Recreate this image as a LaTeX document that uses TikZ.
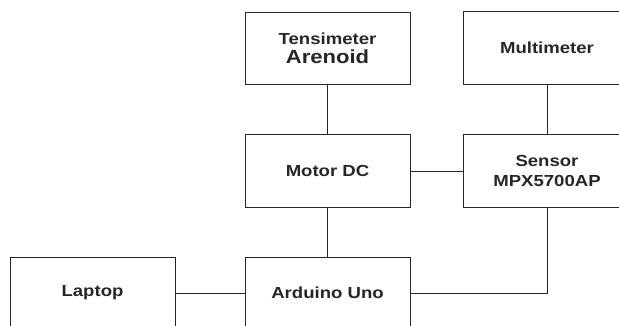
\documentclass[tikz,border=0pt]{standalone}
\usepackage{fontspec}
\setmainfont{Liberation Sans}[FakeStretch=1.16]
\begin{document}
\begin{tikzpicture}[x=1pt,y=-1pt,
  blk/.style={draw=black!85,line width=0.9pt,fill=white,minimum width=165pt,minimum height=72pt,inner sep=0pt,align=center,font=\bfseries\fontsize{16}{20}\selectfont,text=black!85},
  cut/.style={blk,draw=none,fill=none,minimum width=166pt},
  wire/.style={draw=black!85,line width=0.9pt}]
\useasboundingbox (0,0) rectangle (619,326);
\clip (0,0) rectangle (619,326);
\node[blk] (T) at (327.5,48) {Tensimeter\\[-1pt]{\fontsize{19}{20}\selectfont Arenoid}};
\node[cut] (Mu) at (547,48) {Multimeter};
\draw[wire] (Mu.north west) rectangle ([xshift=40pt]Mu.south east);
\node[blk,minimum height=73pt] (M) at (327.5,171) {Motor DC};
\node[cut,minimum height=73pt] (S) at (547,171) {Sensor\\MPX5700AP};
\draw[wire] (S.north west) rectangle ([xshift=40pt]S.south east);
\node[blk] (L) at (92.5,293) {Laptop};
\node[blk] (A) at (327.5,293) {Arduino Uno};
\draw[wire] (T.south) -- (M.north);
\draw[wire] (Mu.south) -- (S.north);
\draw[wire] (M.east) -- (S.west);
\draw[wire] (M.south) -- (A.north);
\draw[wire] (L.east) -- (A.west);
\draw[wire] (A.east) -| (S.south);
\end{tikzpicture}
\end{document}
